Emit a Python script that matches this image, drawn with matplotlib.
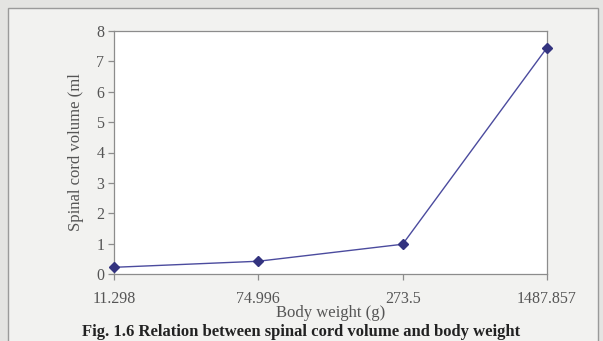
import matplotlib
matplotlib.use("Agg")
import matplotlib.pyplot as plt
from matplotlib.patches import Rectangle

# spinal cord volume against body weight
weights = ["11.298", "74.996", "273.5", "1487.857"]
volumes = [0.22, 0.42, 0.98, 7.45]
yticks = [0, 1, 2, 3, 4, 5, 6, 7, 8]

plt.rcParams["font.family"] = "Liberation Serif"

fig = plt.figure(figsize=(6.03, 3.41), dpi=100)
fig.patch.set_facecolor("#e4e4e2")

# chart area frame
fig.patches.append(Rectangle((8 / 603, -0.1), 590 / 603, 1 - 8 / 341 + 0.1,
                             transform=fig.transFigure, facecolor="#f2f2f0",
                             edgecolor="#9a9a9a", linewidth=1.0, zorder=-5))

ax = fig.add_axes([114 / 603, 1 - 274 / 341, 433 / 603, 243 / 341])
ax.set_facecolor("white")

x = list(range(len(weights)))
ax.plot(x, volumes, color="#4b4b9e", linewidth=1.0, marker="D", markersize=5,
        markerfacecolor="#33337f", markeredgecolor="#33337f", clip_on=False, zorder=3)

ax.set_xlim(0, len(weights) - 1)
ax.set_ylim(0, 8)
ax.set_xticks(x)
ax.set_xticklabels(weights)
ax.set_yticks(yticks)

for s in ax.spines.values():
    s.set_color("#8c8c8c")
    s.set_linewidth(0.9)

ax.tick_params(axis="both", colors="#8c8c8c", labelcolor="#555555", labelsize=11.5,
               length=4, width=0.9, direction="out")
ax.tick_params(axis="x", pad=8)
ax.tick_params(axis="y", pad=3)

ax.set_xlabel("Body weight (g)", fontsize=12, color="#555555", labelpad=-1)
ax.set_ylabel("Spinal cord volume (ml", fontsize=12, color="#555555", labelpad=9)

fig.text(0.5, 1 / 341, "Fig. 1.6 Relation between spinal cord volume and body weight",
         ha="center", va="bottom", fontsize=12, fontweight="bold", color="#222222")

fig.savefig("out.png", dpi=100, facecolor=fig.get_facecolor())
